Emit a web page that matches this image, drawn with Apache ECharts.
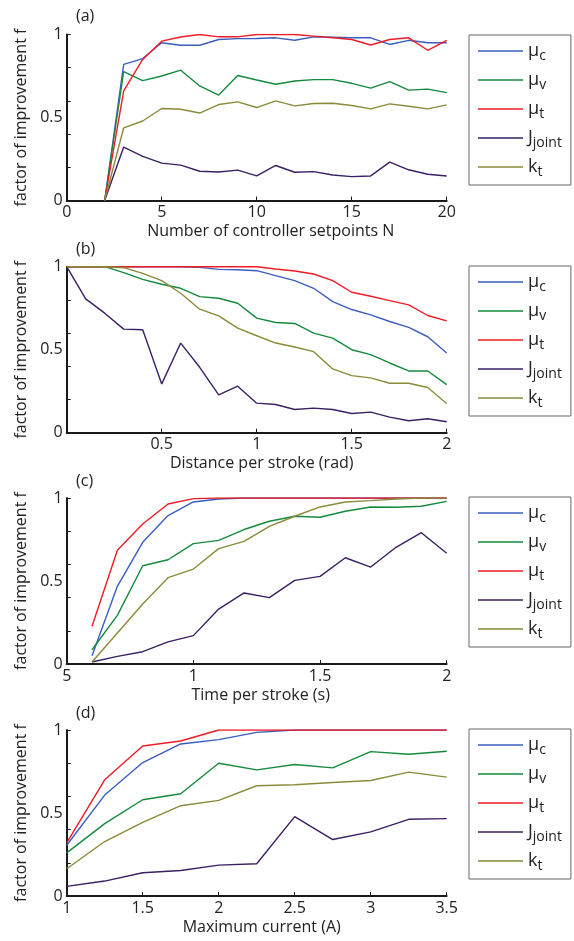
<!DOCTYPE html>
<html><head><meta charset="utf-8">
<script src="https://cdn.jsdelivr.net/npm/echarts@6/dist/echarts.min.js"></script>
<style>html,body{margin:0;padding:0;background:#fff}#c{width:574px;height:941px}</style>
</head><body><div id="c"></div>
<script>
// ---- Data ----
const seriesNames = ['mu_c','mu_v','mu_t','J_joint','k_t'];
const seriesColors = ['#3a5ebf','#168a3c','#ee1c25','#3a2063','#8b8a3a'];

// (a) Number of controller setpoints N
const xA = [2,3,4,5,6,7,8,9,10,11,12,13,14,15,16,17,18,19,20];
const aMuC = [0,0.82,0.855,0.95,0.935,0.935,0.97,0.975,0.976,0.98,0.965,0.986,0.984,0.98,0.98,0.94,0.965,0.95,0.95];
const aMuV = [0,0.777,0.722,0.75,0.785,0.69,0.635,0.753,0.726,0.70,0.72,0.728,0.728,0.706,0.677,0.716,0.665,0.671,0.65];
const aMuT = [0,0.66,0.85,0.96,0.985,1.0,0.986,0.986,1.0,1.0,1.0,0.99,0.98,0.97,0.937,0.97,0.98,0.905,0.965];
const aJ   = [0,0.322,0.266,0.225,0.213,0.176,0.172,0.183,0.148,0.211,0.17,0.174,0.154,0.144,0.148,0.231,0.185,0.158,0.148];
const aKt  = [0,0.438,0.479,0.554,0.55,0.527,0.578,0.594,0.56,0.60,0.57,0.584,0.586,0.572,0.552,0.582,0.568,0.552,0.576];

// (b) Distance per stroke (rad)
const xB = [0,0.1,0.2,0.3,0.4,0.5,0.6,0.7,0.8,0.9,1.0,1.1,1.2,1.3,1.4,1.5,1.6,1.7,1.8,1.9,2.0];
const bMuC = [1,1,1,1,1,1,1,0.996,0.984,0.982,0.976,0.946,0.916,0.87,0.79,0.742,0.71,0.67,0.634,0.578,0.48];
const bMuV = [1,1,1,0.964,0.924,0.894,0.87,0.82,0.81,0.78,0.69,0.664,0.658,0.60,0.57,0.50,0.47,0.42,0.372,0.372,0.29];
const bMuT = [1,1,1,1,1,1,1,1,1,1,1,0.986,0.974,0.956,0.916,0.846,0.822,0.796,0.77,0.706,0.674];
const bJ   = [1,0.806,0.72,0.624,0.62,0.294,0.54,0.394,0.228,0.28,0.178,0.17,0.14,0.148,0.14,0.116,0.124,0.094,0.072,0.084,0.066];
const bKt  = [1,1,1,0.994,0.96,0.916,0.84,0.744,0.704,0.63,0.584,0.54,0.516,0.488,0.384,0.344,0.33,0.298,0.298,0.272,0.176];

// (c) Time per stroke (s)
const xC = [0.6,0.7,0.8,0.9,1.0,1.1,1.2,1.3,1.4,1.5,1.6,1.7,1.8,1.9,2.0];
const cMuC = [0.05,0.468,0.733,0.894,0.976,0.994,1,1,1,1,1,1,1,1,1];
const cMuV = [0.086,0.293,0.592,0.628,0.725,0.745,0.81,0.86,0.89,0.884,0.92,0.946,0.944,0.95,0.98];
const cMuT = [0.227,0.685,0.843,0.964,0.996,1,1,1,1,1,1,1,1,1,1];
const cJ   = [0.012,0.046,0.074,0.133,0.171,0.331,0.428,0.40,0.504,0.528,0.64,0.584,0.703,0.791,0.667];
const cKt  = [0.012,0.187,0.361,0.52,0.572,0.695,0.739,0.829,0.89,0.946,0.976,0.984,0.994,1.0,1.0];

// (d) Maximum current (A)
const xD = [1,1.25,1.5,1.75,2,2.25,2.5,2.75,3,3.25,3.5];
const dMuC = [0.306,0.608,0.804,0.916,0.942,0.986,1,1,1,1,1];
const dMuV = [0.26,0.436,0.58,0.616,0.80,0.76,0.792,0.772,0.87,0.854,0.872];
const dMuT = [0.32,0.70,0.904,0.934,1,1,1,1,1,1,1];
const dJ   = [0.058,0.09,0.14,0.154,0.186,0.194,0.478,0.34,0.386,0.462,0.466];
const dKt  = [0.164,0.328,0.444,0.544,0.576,0.664,0.67,0.684,0.696,0.746,0.716];

const panelLabels = ['(a)','(b)','(c)','(d)'];
const xTitles = ['Number of controller setpoints N','Distance per stroke (rad)','Time per stroke (s)','Maximum current (A)'];
const yTitle = 'factor of improvement f';
const xRanges = [[0,20,5],[0,2,0.5],[0.5,2,0.5],[1,3.5,0.5]];
const xLabelFmt = [
  v => String(v),
  v => (Math.abs(v) < 1e-9 ? '' : String(v)),
  v => (Math.abs(v-0.5) < 1e-9 ? '5' : String(v)),
  v => String(v)
];
const panels = [
  {x:xA, ys:[aMuC,aMuV,aMuT,aJ,aKt]},
  {x:xB, ys:[bMuC,bMuV,bMuT,bJ,bKt]},
  {x:xC, ys:[cMuC,cMuV,cMuT,cJ,cKt]},
  {x:xD, ys:[dMuC,dMuV,dMuT,dJ,dKt]}
];

// ---- Layout ----
const FONT = 'Open Sans';
const gridTops = [34.5, 266.7, 498, 730];
const gridH = 166;
const gridLeft = 66.7, gridW = 380;
const legendTops = [35, 266, 497, 729];
const labelTops = [8, 241, 473, 705];
const titleShift = [28, 10, 8, 10];
const axisColor = '#1a1a1a';

const grid = [], xAxis = [], yAxis = [], series = [], legend = [], graphic = [];
panels.forEach((p, i) => {
  grid.push({left: gridLeft, top: gridTops[i], width: gridW, height: gridH});
  xAxis.push({
    type:'value', gridIndex:i, min:xRanges[i][0], max:xRanges[i][1], interval:xRanges[i][2],
    name: xTitles[i], nameLocation:'middle', nameGap: 23,
    nameTextStyle:{fontFamily:FONT, fontSize:16, color:'#222', padding:[0,0,0,titleShift[i]]},
    axisLine:{show:true, onZero:false, lineStyle:{color:axisColor, width:2}},
    axisTick:{show:true, inside:true, length:4, lineStyle:{color:axisColor, width:1}},
    axisLabel:{fontFamily:FONT, fontSize:16, color:'#222', margin:4, formatter:xLabelFmt[i]},
    splitLine:{show:false}
  });
  // label axis (0, 0.5, 1)
  yAxis.push({
    type:'value', gridIndex:i, min:0, max:1, interval:0.1, position:'left',
    name: yTitle, nameLocation:'middle', nameGap: 34,
    nameTextStyle:{fontFamily:FONT, fontSize:16, color:'#222'},
    axisLine:{show:true, onZero:false, lineStyle:{color:axisColor, width:2}},
    axisTick:{show:false},
    axisLabel:{fontFamily:FONT, fontSize:16, color:'#222', margin:4,
      formatter: v => (Math.abs(v) < 1e-9 ? '0' : Math.abs(v-0.5) < 1e-9 ? '0.5' : Math.abs(v-1) < 1e-9 ? '1' : '')},
    splitLine:{show:false}
  });
  // tick axis (every 0.2)
  yAxis.push({
    type:'value', gridIndex:i, min:0, max:1, interval:0.2, position:'left',
    axisLine:{show:false},
    axisTick:{show:true, inside:true, length:4, lineStyle:{color:axisColor, width:1}},
    axisLabel:{show:false}, splitLine:{show:false}
  });
  p.ys.forEach((ys, k) => {
    series.push({
      type:'line', name: seriesNames[k], xAxisIndex:i, yAxisIndex:2*i,
      data: p.x.map((xv, j) => [xv, ys[j]]),
      showSymbol:false, symbol:'none', smooth:false, z: 2,
      lineStyle:{color:seriesColors[k], width:1.4}, itemStyle:{color:seriesColors[k]},
      animation:false
    });
  });
  legend.push({
    orient:'vertical', left:469, top:legendTops[i],
    data: seriesNames.slice(),
    icon:'rect', itemWidth:45, itemHeight:1.6, itemGap:8,
    padding:[7,9,6,9],
    borderColor:'#666', borderWidth:1, backgroundColor:'#fff',
    selectedMode:false,
    formatter: n => {
      const [base, sub] = n.split('_');
      const b = base === 'mu' ? 'μ' : base;
      return '{b|' + b + '}{s|' + sub + '}';
    },
    textStyle:{
      fontFamily:FONT, color:'#222',
      rich:{
        b:{fontFamily:FONT, fontSize:18, color:'#222'},
        s:{fontFamily:FONT, fontSize:14, color:'#222', padding:[10,0,0,0]}
      }
    }
  });
  graphic.push({type:'text', left:76, top:labelTops[i],
    style:{text:panelLabels[i], font:'16px "Open Sans"', fill:'#222'}});
});

const chart = echarts.init(document.getElementById('c'), null, {renderer:'canvas'});
chart.setOption({
  animation:false, backgroundColor:'#fff',
  grid, xAxis, yAxis, series, legend, graphic
});
</script>
</body></html>
